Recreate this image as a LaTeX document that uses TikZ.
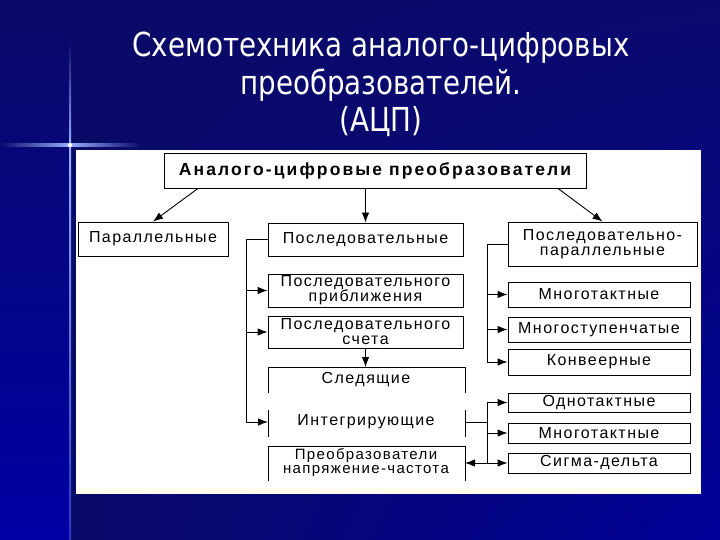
\documentclass[tikz,border=0pt]{standalone}
\usepackage{fontspec}
\setmainfont{Liberation Sans}
\newfontfamily\titlefont[FakeStretch=0.84]{DejaVu Sans}
\newfontfamily\dfont[LetterSpace=9]{Liberation Sans}
\newfontfamily\dbfont[LetterSpace=12]{Liberation Sans Bold}
\newfontfamily\dtfont[LetterSpace=9]{Liberation Sans}
\usetikzlibrary{arrows.meta,shadings}
\definecolor{navy}{RGB}{10,10,104}
\definecolor{navytr}{RGB}{10,10,110}
\definecolor{brightblue}{RGB}{0,0,152}
\definecolor{leftblue}{RGB}{0,0,165}
\definecolor{glow}{RGB}{150,175,255}
\definecolor{cream}{RGB}{255,253,236}
\begin{document}
\begin{tikzpicture}[x=1pt,y=-1pt,
  box/.style={draw=black, line width=0.9pt, fill=white, inner sep=0pt, align=center,
    font=\dfont\fontsize{16}{15}\selectfont},
  txt/.style={inner sep=0pt, align=center, font=\dfont\fontsize{16}{15}\selectfont},
  ttl/.style={anchor=base, text=white, inner sep=0pt, font=\titlefont\fontsize{33}{38}\selectfont},
  ln/.style={line width=0.9pt},
  arr/.style={line width=0.9pt, -{Latex[length=10pt,width=7.5pt]}}]
\useasboundingbox (0,0) rectangle (720,540);
% background
\shade[upper left=navy, upper right=navytr, lower left=navy, lower right=brightblue] (70,0) rectangle (720,540);
\shade[top color=navy, bottom color=leftblue] (0,0) rectangle (70,540);
% glow lines
\shade[top color=navy, bottom color=glow] (69,40) rectangle (71,145);
\shade[top color=glow, bottom color=leftblue!70!glow] (69,145) rectangle (71,540);
\shade[left color=navy, right color=glow] (0,144) rectangle (70,146.5);
\shade[left color=glow, right color=navy] (70,144) rectangle (140,146.5);
\fill[white] (70,145.2) circle (2.2);
% title
\node[ttl] (t1) at (381,57) {Схемотехника аналого-цифровых};
\node[ttl] (t2) at (381,95) {преобразователей.};
\node[ttl] (t3) at (381,132) {(АЦП)};
% panel
\fill[white] (76,150) rectangle (701,494);
\fill[cream] (76,488) rectangle (701,494);
% boxes
\node[box, font=\dbfont\fontsize{17.5}{18}\selectfont, minimum width=422pt, minimum height=35pt] (top) at (375,170.5) {Аналого-цифровые преобразователи};
\node[box, minimum width=150pt, minimum height=34pt] (par) at (153,239) {Параллельные};
\node[box, minimum width=195pt, minimum height=33pt] (posl) at (365.5,239.5) {Последовательные};
\node[box, minimum width=189pt, minimum height=44pt] (pp) at (602.5,244) {Последовательно-\\параллельные};
\node[box, minimum width=195pt, minimum height=33pt] (pribl) at (365.5,290.5) {Последовательного\\приближения};
\node[box, minimum width=195pt, minimum height=32pt] (schet) at (365.5,332) {Последовательного\\счета};
\node[box, minimum width=182pt, minimum height=25pt] (mt1) at (599,294.5) {Многотактные};
\node[box, minimum width=182pt, minimum height=25pt] (ms) at (599,329.5) {Многоступенчатые};
\node[box, minimum width=182pt, minimum height=26pt] (konv) at (599,362) {Конвеерные};
\node[box, minimum width=182pt, minimum height=19pt] (odn) at (599,402.5) {Однотактные};
\node[box, minimum width=182pt, minimum height=20pt] (mt2) at (599,433) {Многотактные};
\node[box, minimum width=182pt, minimum height=20pt] (sigma) at (599,463) {Сигма-дельта};
% partially drawn boxes
\node[txt] (sled) at (366,380) {Следящие};
\node[txt] (integ) at (366,422) {Интегрирующие};
\node[txt, font=\dtfont\fontsize{15}{14}\selectfont] (preobr) at (366,463) {Преобразователи\\напряжение-частота};
\draw[ln] (268,393) -- (268,367) -- (465,367) -- (465,393);
\draw[ln] (268,410) -- (268,437);
\draw[ln] (465,410) -- (465,437);
\draw[ln] (268,481) -- (268,446) -- (465,446) -- (465,481);
\coordinate (sledtop) at (365.5,367);
\coordinate (integW) at (268,422);
\coordinate (integE) at (465,422);
\coordinate (preobrE) at (465,463);
\coordinate (lb) at (246,0);
\coordinate (rb) at (487,0);
% connectors from top
\draw[arr] ([xshift=-177pt]top.south) -- (par.north);
\draw[arr] (top.south -| posl.north) -- (posl.north);
\draw[arr] ([xshift=183pt]top.south) -- (pp.north);
\draw[arr] (schet.south) -- (sledtop);
% left bus
\draw[ln] (posl.west) -- (posl.west -| lb) -- (lb |- integW);
\draw[arr] (lb |- pribl) -- (pribl.west);
\draw[arr] (lb |- schet) -- (schet.west);
\draw[arr] (lb |- integW) -- (integW);
% right bus upper
\draw[ln] (pp.west) -- (pp.west -| rb) -- (rb |- konv);
\draw[arr] (rb |- mt1) -- (mt1.west);
\draw[arr] (rb |- ms) -- (ms.west);
\draw[arr] (rb |- konv) -- (konv.west);
% right bus lower
\draw[ln] (integE) -- (integE -| rb);
\draw[ln] (rb |- odn) -- (rb |- sigma);
\draw[arr] (rb |- odn) -- (odn.west);
\draw[arr] (rb |- mt2) -- (mt2.west);
\draw[arr] (rb |- sigma) -- (sigma.west);
\draw[arr] (rb |- sigma) -- (preobrE);
\end{tikzpicture}
\end{document}
